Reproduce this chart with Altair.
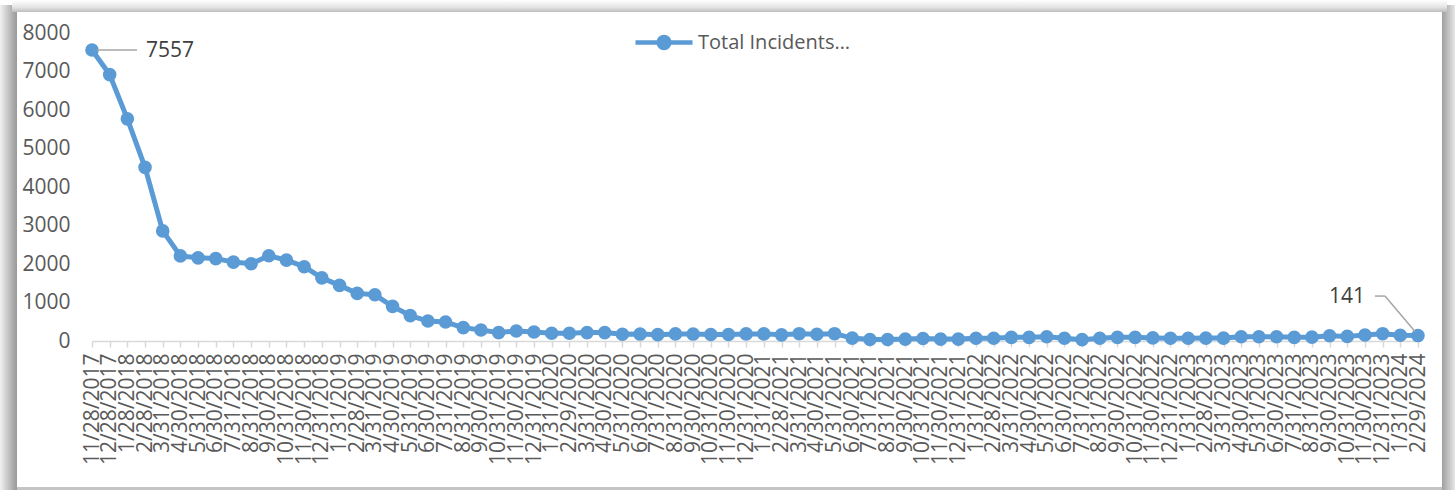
import altair as alt
import pandas as pd

dates = [
    "11/28/2017", "12/28/2017",
    "1/28/2018", "2/28/2018", "3/31/2018", "4/30/2018", "5/31/2018", "6/30/2018",
    "7/31/2018", "8/31/2018", "9/30/2018", "10/31/2018", "11/30/2018", "12/31/2018",
    "1/31/2019", "2/28/2019", "3/31/2019", "4/30/2019", "5/31/2019", "6/30/2019",
    "7/31/2019", "8/31/2019", "9/30/2019", "10/31/2019", "11/30/2019", "12/31/2019",
    "1/31/2020", "2/29/2020", "3/31/2020", "4/30/2020", "5/31/2020", "6/30/2020",
    "7/31/2020", "8/31/2020", "9/30/2020", "10/31/2020", "11/30/2020", "12/31/2020",
    "1/31/2021", "2/28/2021", "3/31/2021", "4/30/2021", "5/31/2021", "6/30/2021",
    "7/31/2021", "8/31/2021", "9/30/2021", "10/31/2021", "11/30/2021", "12/31/2021",
    "1/31/2022", "2/28/2022", "3/31/2022", "4/30/2022", "5/31/2022", "6/30/2022",
    "7/31/2022", "8/31/2022", "9/30/2022", "10/31/2022", "11/30/2022", "12/31/2022",
    "1/31/2023", "2/28/2023", "3/31/2023", "4/30/2023", "5/31/2023", "6/30/2023",
    "7/31/2023", "8/31/2023", "9/30/2023", "10/31/2023", "11/30/2023", "12/31/2023",
    "1/31/2024", "2/29/2024",
]

incidents = [
    7557, 6920,
    5770, 4510, 2860, 2210, 2160, 2140, 2050, 2005, 2215, 2100, 1930, 1640,
    1445, 1237, 1200, 900, 660, 519, 493, 348, 285, 218, 259, 233,
    200, 200, 218, 218, 174, 180, 165, 185, 180, 170, 170, 185,
    185, 160, 190, 175, 190, 75, 40, 40, 50, 65, 50, 50,
    70, 70, 95, 95, 110, 70, 35, 70, 95, 95, 80, 70,
    70, 75, 75, 110, 110, 110, 95, 100, 135, 120, 155, 190,
    150, 141,
]

series_name = "Total Incidents…"
y_ticks = [0, 1000, 2000, 3000, 4000, 5000, 6000, 7000, 8000]

df = pd.DataFrame({
    "date": dates,
    "value": incidents,
    "idx": list(range(len(dates))),
    "series": [series_name] * len(dates),
})

BLUE = "#5b9bd5"
FONT = "Open Sans"
last_idx = len(dates) - 1

x_enc = alt.X(
    "date:N", sort=dates,
    scale=alt.Scale(type="point", padding=0),
    axis=alt.Axis(
        title=None, labelAngle=-90, labelFontSize=21, labelFont=FONT,
        labelColor="#595959", labelPadding=6, labelOverlap=False, labelBound=False,
        tickColor="#d9d9d9", tickSize=6, tickWidth=1.5,
        domainColor="#d9d9d9", domainWidth=1.5, grid=False,
    ),
)
y_enc = alt.Y(
    "value:Q",
    scale=alt.Scale(domain=[0, 8000], nice=False, zero=True),
    axis=alt.Axis(
        title=None, values=y_ticks, format="d", labelFontSize=21, labelFont=FONT,
        labelColor="#595959", labelPadding=22, ticks=False, domain=False, grid=False,
    ),
)

one = alt.Data(values=[{"k": 1}])


def frame_rect(x1, x2, y1, y2, fill):
    return alt.Chart(one).mark_rect(fill=fill).encode(
        x=alt.value(x1), x2=alt.value(x2), y=alt.value(y1), y2=alt.value(y2)
    )


# plot origin sits at canvas (92, 33)
left_shadow = frame_rect(
    -92, -75, -28, 457,
    alt.LinearGradient(
        gradient="linear", x1=0, x2=1, y1=0, y2=0,
        stops=[alt.GradientStop(color="#f2f2f2", offset=0),
               alt.GradientStop(color="#a8a8a8", offset=0.8),
               alt.GradientStop(color="#9a9a9a", offset=1)],
    ),
)
right_shadow = frame_rect(
    1350, 1363, -28, 457,
    alt.LinearGradient(
        gradient="linear", x1=0, x2=1, y1=0, y2=0,
        stops=[alt.GradientStop(color="#9f9f9f", offset=0),
               alt.GradientStop(color="#e6e6e6", offset=1)],
    ),
)
top_band = frame_rect(
    -80, 1355, -33, -21,
    alt.LinearGradient(
        gradient="linear", x1=0, x2=0, y1=0, y2=1,
        stops=[alt.GradientStop(color="#ffffff", offset=0),
               alt.GradientStop(color="#e4e4e4", offset=0.6),
               alt.GradientStop(color="#bdbdbd", offset=1)],
    ),
)
bottom_band = frame_rect(-75, 1350, 454, 457, "#c4c4c4")

legend = alt.Legend(
    title=None, orient="none", legendX=541, legendY=-21.5, padding=0,
    symbolType="M-1,0L1,0M0.19,0A0.19,0.19,0,1,1,-0.19,0A0.19,0.19,0,1,1,0.19,0Z",
    symbolSize=3249, symbolStrokeWidth=4.5, symbolStrokeColor=BLUE, symbolFillColor=BLUE,
    symbolOpacity=1,
    labelFont=FONT, labelFontSize=20, labelColor="#595959", labelOffset=3,
)

base = alt.Chart(df)

line = base.mark_line(strokeWidth=5, strokeJoin="round", strokeCap="round").encode(
    x=x_enc, y=y_enc,
    color=alt.Color("series:N", scale=alt.Scale(range=[BLUE]), legend=legend),
)
points = base.mark_circle(size=185, opacity=1, color=BLUE).encode(x=x_enc, y=y_enc)

first_leader = base.transform_filter(alt.datum.idx == 0).mark_rule(
    color="#a6a6a6", strokeWidth=1.5, xOffset=5, x2Offset=45
).encode(x=x_enc, x2=alt.X2("date"), y=y_enc)
first_label = base.transform_filter(alt.datum.idx == 0).mark_text(
    align="left", baseline="middle", dx=54, dy=0.5, fontSize=21, font=FONT, color="#404040"
).encode(x=x_enc, y=y_enc, text="value:Q")

last_leader_h = base.transform_filter(alt.datum.idx == last_idx).mark_rule(
    color="#a6a6a6", strokeWidth=1.5, xOffset=-43, x2Offset=-33, yOffset=-39.5
).encode(x=x_enc, x2=alt.X2("date"), y=y_enc)
last_leader_d = base.transform_filter(alt.datum.idx == last_idx).mark_rule(
    color="#a6a6a6", strokeWidth=1.5, xOffset=-33, x2Offset=-3, yOffset=-39.5, y2Offset=-4
).encode(x=x_enc, x2=alt.X2("date"), y=y_enc, y2=alt.Y2("value"))
last_label = base.transform_filter(alt.datum.idx == last_idx).mark_text(
    align="right", baseline="middle", dx=-53, dy=-38.5, fontSize=21, font=FONT, color="#404040"
).encode(x=x_enc, y=y_enc, text="value:Q")

chart = alt.layer(
    left_shadow, right_shadow, top_band, bottom_band,
    line, points, first_leader, first_label, last_leader_h, last_leader_d, last_label,
).properties(
    width=1326, height=308,
    padding={"left": 92, "top": 33, "right": 37, "bottom": 149},
    autosize=alt.AutoSizeParams(type="none"),
    background="white",
).configure_view(stroke=None)

chart.save("out.html", embed_options={"renderer": "svg", "actions": False})
